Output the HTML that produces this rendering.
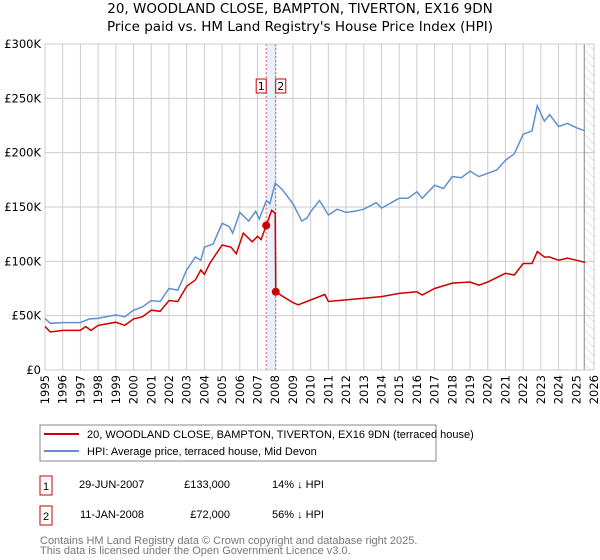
<!DOCTYPE html>
<html><head><meta charset="utf-8"><style>
body{margin:0;background:#fff;font-family:"DejaVu Sans","Liberation Sans",sans-serif;}
#wrap{position:relative;width:600px;height:560px;overflow:hidden}
.lib{font-family:"Liberation Sans",sans-serif}
</style></head><body>
<div id="wrap">
<svg id="svg" width="600" height="560" xmlns="http://www.w3.org/2000/svg" font-family="DejaVu Sans, Liberation Sans, sans-serif">
<defs><pattern id="hatch" width="6" height="6" patternUnits="userSpaceOnUse" patternTransform="rotate(-45)"><line x1="0" y1="0" x2="0" y2="6" stroke="#ccc" stroke-width="1"/></pattern></defs>
<text x="300" y="13" text-anchor="middle" font-size="13.5" fill="#000">20, WOODLAND CLOSE, BAMPTON, TIVERTON, EX16 9DN</text>
<text x="300" y="31" text-anchor="middle" font-size="13.5" fill="#000">Price paid vs. HM Land Registry's House Price Index (HPI)</text>
<g id="grid"></g>
<g id="axes"></g>
<g id="series"></g>
<rect x="40" y="425" width="396" height="36" fill="#fff" stroke="#888"/>
<line x1="44" y1="434" x2="79" y2="434" stroke="#cc0000" stroke-width="2"/>
<text class="lib" x="87" y="438" font-size="11">20, WOODLAND CLOSE, BAMPTON, TIVERTON, EX16 9DN (terraced house)</text>
<line x1="44" y1="451" x2="79" y2="451" stroke="#6090d0" stroke-width="2"/>
<text class="lib" x="87" y="455" font-size="11">HPI: Average price, terraced house, Mid Devon</text>
<rect x="40" y="476" width="12" height="19" fill="#fff" stroke="#cc0000"/>
<text class="lib" x="46" y="490" font-size="11" text-anchor="middle">1</text>
<text class="lib" x="79" y="488" font-size="11">29-JUN-2007</text>
<text class="lib" x="230" y="488" font-size="11" text-anchor="end">£133,000</text>
<text class="lib" x="272" y="488" font-size="11">14% ↓ HPI</text>
<rect x="40" y="506" width="12" height="19" fill="#fff" stroke="#cc0000"/>
<text class="lib" x="46" y="520" font-size="11" text-anchor="middle">2</text>
<text class="lib" x="80" y="518" font-size="11">11-JAN-2008</text>
<text class="lib" x="230" y="518" font-size="11" text-anchor="end">£72,000</text>
<text class="lib" x="272" y="518" font-size="11">56% ↓ HPI</text>
<text class="lib" x="40" y="544" font-size="11" fill="#777">Contains HM Land Registry data © Crown copyright and database right 2025.</text>
<text class="lib" x="40" y="554" font-size="11" fill="#777">This data is licensed under the Open Government Licence v3.0.</text>
</svg>
</div>
<script>
const yTicks=[0,50,100,150,200,250,300];
const yTickLabels=["£0","£50K","£100K","£150K","£200K","£250K","£300K"];
const xYears=[1995,1996,1997,1998,1999,2000,2001,2002,2003,2004,2005,2006,2007,2008,2009,2010,2011,2012,2013,2014,2015,2016,2017,2018,2019,2020,2021,2022,2023,2024,2025,2026];
const hpiT=[1995,1995.3,1996,1997,1997.5,1998,1999,1999.5,2000,2000.5,2001,2001.5,2002,2002.5,2003,2003.5,2003.8,2004,2004.5,2005,2005.4,2005.6,2006,2006.5,2006.9,2007.1,2007.5,2007.7,2008,2008.4,2009,2009.5,2009.8,2010,2010.5,2011,2011.5,2012,2012.5,2013,2013.7,2014,2015,2015.5,2016,2016.3,2017,2017.5,2018,2018.5,2019,2019.5,2020,2020.5,2021,2021.5,2022,2022.5,2022.8,2023.2,2023.5,2024,2024.5,2025,2025.5];
const hpiV=[47.5,43,43.6,43.6,47,47.5,50.7,49,55,58,64,63,75,73.5,92,104,101,113,116,135,132,126,145,137,146,139,156,153,172,166,153,137,140,145.6,156,142.6,148,145,146,148,154,149,158,158,164,158,170,167,178,177,183,178,181,184,193,199,217,220,243,229,235,224,227,223,220];
const redT=[1995,1995.3,1996,1997,1997.3,1997.6,1998,1999,1999.5,2000,2000.5,2001,2001.5,2002,2002.5,2003,2003.5,2003.8,2004,2004.3,2005,2005.5,2005.8,2006.2,2006.7,2007,2007.2,2007.49,2007.8,2008.0,2008.03,2008.5,2009,2009.3,2010,2010.8,2011,2012,2013,2014,2015,2016,2016.3,2017,2018,2019,2019.5,2020,2021,2021.5,2022,2022.5,2022.8,2023.2,2023.5,2024,2024.5,2025,2025.5];
const redV=[40,35,36.4,36.4,40,36.4,41,44,41,47,49,55,54,64,63,77,83,92,88,98,115,113,107,126,118,123,120,133,147,144,72,67,62,60,64.4,69.5,63,64.5,66,67.5,70.5,72,69,75,80,81,78,81,89,87.4,98,98,109,104,104,101,103,101,99];
const sales=[{n:"1",t:2007.49,v:133},{n:"2",t:2008.03,v:72}];
const NS="http://www.w3.org/2000/svg";
const X0=45,X1=594,Y0=370,Y1=44;
const xs=t=>X0+(t-1995)/(2026-1995)*(X1-X0);
const ys=v=>Y0-v/300*(Y0-Y1);
function mk(tag,attrs,parent){const e=document.createElementNS(NS,tag);for(const k in attrs)e.setAttribute(k,attrs[k]);parent.appendChild(e);return e;}
const grid=document.getElementById('grid'),axes=document.getElementById('axes'),ser=document.getElementById('series');
const sh=mk('rect',{x:xs(sales[0].t),y:Y1,width:xs(sales[1].t)-xs(sales[0].t),height:Y0-Y1,fill:'#e8f0fb'},grid);


const ht=mk('rect',{x:xs(2025.45),y:Y1,width:X1-xs(2025.45),height:Y0-Y1,fill:'url(#hatch)'},grid);


yTicks.forEach((v,i)=>{
 const l=mk('line',{x1:X0,x2:X1,y1:ys(v),y2:ys(v),stroke:'#ccc','stroke-width':1},grid);
 
 
 const t=mk('text',{x:41,y:ys(v)+4,'text-anchor':'end','font-size':11.5},axes);
 
 
 t.textContent=yTickLabels[i];
});
xYears.forEach(y=>{
 const l=mk('line',{x1:xs(y),x2:xs(y),y1:Y1,y2:Y0,stroke:'#ccc','stroke-width':1},grid);
 
 
 const t=mk('text',{x:0,y:0,'text-anchor':'end','font-size':11.5,transform:`translate(${xs(y)+4},${Y0+5}) rotate(-90)`},axes);
 
 
 t.textContent=y;
});
const vl=mk('line',{x1:xs(2025.45),x2:xs(2025.45),y1:Y1,y2:Y0,stroke:'#888','stroke-width':1},grid);


sales.forEach(s=>{
 const l=mk('line',{x1:xs(s.t),x2:xs(s.t),y1:Y1,y2:Y0,stroke:'#e06060','stroke-width':1,'stroke-dasharray':'2,2'},grid);
 
 
});
function path(T,V){return T.map((t,i)=>(i?'L':'M')+xs(t).toFixed(1)+','+ys(V[i]).toFixed(1)).join('');}
const hp=mk('path',{d:path(hpiT,hpiV),fill:'none',stroke:'#6090d0','stroke-width':1.5},ser);


const rp=mk('path',{d:path(redT,redV),fill:'none',stroke:'#cc0000','stroke-width':1.5},ser);


sales.forEach(s=>{
 const c=mk('circle',{cx:xs(s.t),cy:ys(s.v),r:4,fill:'#cc0000'},ser);
 
 
 const bx=s.n==="1"?xs(s.t)-10:xs(s.t);
 const r=mk('rect',{x:bx,y:79,width:10,height:14,fill:'#fff',stroke:'#cc0000'},ser);
 
 
 const t=mk('text',{x:bx+5,y:90,'text-anchor':'middle','font-size':11},ser);
 
 
 t.textContent=s.n;
});
const fr=mk('rect',{x:X0,y:Y1,width:X1-X0,height:Y0-Y1,fill:'none',stroke:'#ccc'},grid);


</script>
</body></html>
